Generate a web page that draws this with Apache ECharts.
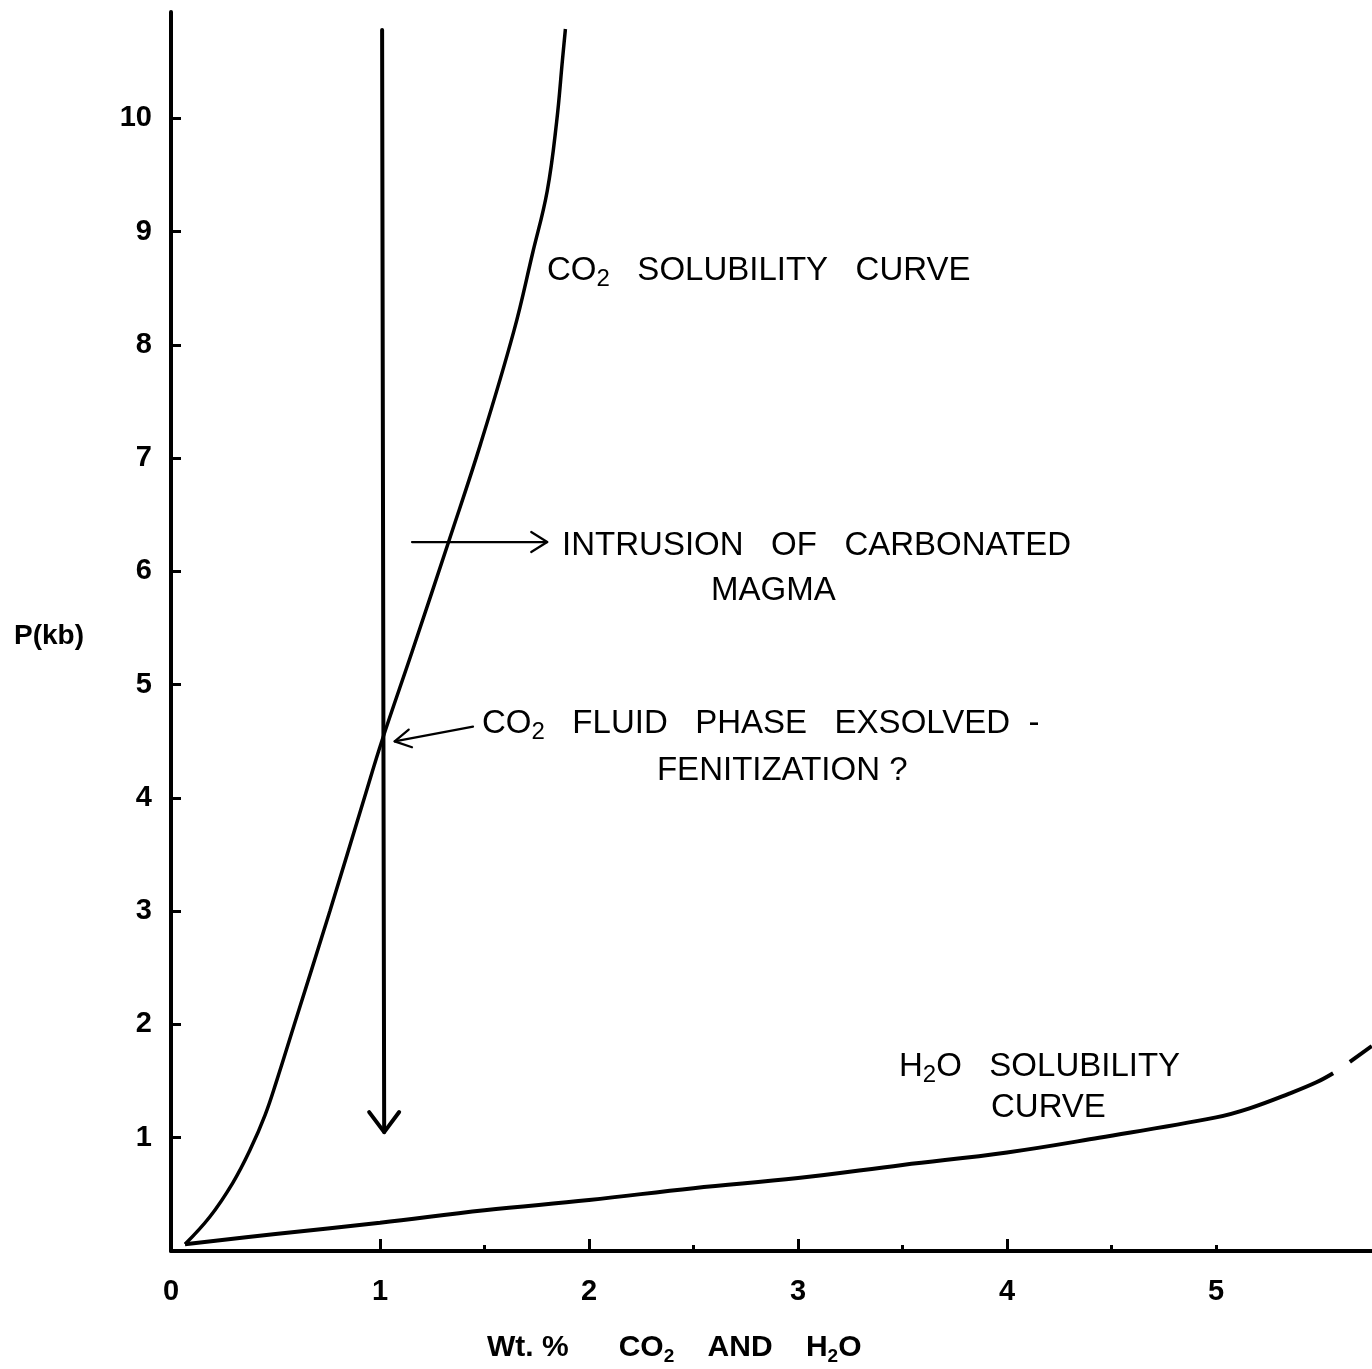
<!DOCTYPE html>
<html><head><meta charset="utf-8">
<script src="https://cdn.jsdelivr.net/npm/echarts@6/dist/echarts.min.js"></script>
<style>html,body{margin:0;padding:0;background:#fff}#c{width:1372px;height:1369px}</style>
</head><body><div id="c"></div>
<script>
// ---- data ----
const xMajorTicks = [1, 2, 3, 4];
const xMinorTicks = [1.5, 2.5, 3.5, 4.5, 5];
const xTickLabels = [0, 1, 2, 3, 4, 5];
const yTickLabels = [1, 2, 3, 4, 5, 6, 7, 8, 9, 10];

const co2Curve = [
  [0.067, 0.06], [0.185, 0.30], [0.295, 0.60], [0.38, 0.90], [0.45, 1.20],
  [0.505, 1.5], [0.59, 2.0], [0.76, 3.0],
  [0.925, 4.0], [1.01, 4.51], [1.155, 5.30], [1.335, 6.30], [1.48, 7.12],
  [1.64, 8.12], [1.73, 8.81], [1.80, 9.36], [1.845, 9.97], [1.873, 10.52], [1.887, 10.79]
];
const h2oCurve = [
  [0.067, 0.06], [0.5, 0.15], [1.0, 0.25], [1.5, 0.36], [2.0, 0.45], [2.5, 0.555],
  [3.0, 0.644], [3.5, 0.76], [4.0, 0.87], [4.44, 1.0], [5.0, 1.18], [5.16, 1.26],
  [5.35, 1.39], [5.48, 1.49], [5.56, 1.57]
];
const h2oCurveTail = [[5.64, 1.67], [5.745, 1.81]];

// arrows: [xStart, yStart, xTip, yTip]
const arrowMagma = [1.01, 10.78, 1.02, 1.05];
const arrowIntrusion = [1.153, 6.26, 1.80, 6.26];
const arrowFluid = [1.445, 4.63, 1.07, 4.50];

const annotationTexts = [
  '{t|CO}{s|2}{t|   SOLUBILITY   CURVE}',
  '{t|INTRUSION   OF   CARBONATED}',
  '{t|MAGMA}',
  '{t|CO}{s|2}{t|   FLUID   PHASE   EXSOLVED  -}',
  '{t|FENITIZATION ?}',
  '{t|H}{s|2}{t|O   SOLUBILITY}',
  '{t|CURVE}'
];
const annotationAnchors = [
  [1.799, 8.65], [1.871, 6.23], [2.584, 5.825], [1.488, 4.65],
  [2.325, 4.24], [3.483, 1.624], [3.923, 1.262]
];

// ---- chart ----
const FONT = '"Liberation Sans", Arial, sans-serif';
const chart = echarts.init(document.getElementById('c'), null, {renderer: 'canvas'});

const arrowList = [arrowMagma, arrowIntrusion, arrowFluid];
const arrowStyle = [
  {w: 4, hl: 20, hw: 15},
  {w: 2.2, hl: 16, hw: 10},
  {w: 2.2, hl: 16, hw: 9}
];

function renderArrow(params, api) {
  const a = arrowList[params.dataIndex];
  const s = arrowStyle[params.dataIndex];
  const p1 = api.coord([a[0], a[1]]);
  const p2 = api.coord([a[2], a[3]]);
  const dx = p2[0] - p1[0], dy = p2[1] - p1[1];
  const L = Math.sqrt(dx * dx + dy * dy);
  const ux = dx / L, uy = dy / L, nx = -uy, ny = ux;
  const w1 = [p2[0] - ux * s.hl + nx * s.hw, p2[1] - uy * s.hl + ny * s.hw];
  const w2 = [p2[0] - ux * s.hl - nx * s.hw, p2[1] - uy * s.hl - ny * s.hw];
  const st = {stroke: '#000', lineWidth: s.w, fill: null, lineCap: 'round', lineJoin: 'round'};
  return {
    type: 'group',
    children: [
      {type: 'line', shape: {x1: p1[0], y1: p1[1], x2: p2[0], y2: p2[1]}, style: st},
      {type: 'polyline', shape: {points: [w1, p2, w2]}, style: st}
    ]
  };
}

function renderText(params, api) {
  const p = api.coord(annotationAnchors[params.dataIndex]);
  return {
    type: 'text',
    x: p[0], y: p[1],
    style: {
      text: annotationTexts[params.dataIndex],
      align: 'left', verticalAlign: 'middle',
      fill: '#000',
      rich: {
        t: {fontSize: 33, fontFamily: FONT, lineHeight: 40, fill: '#000'},
        s: {fontSize: 24, fontFamily: FONT, lineHeight: 28, verticalAlign: 'bottom', fill: '#000'}
      }
    }
  };
}

const option = {
  animation: false,
  backgroundColor: '#fff',
  grid: {left: 171, right: 0, top: 12, bottom: 118, containLabel: false},
  xAxis: [{
    type: 'value', min: 0, max: 5.746,
    axisLine: {show: true, onZero: false, lineStyle: {color: '#000', width: 4}},
    axisTick: {show: true, inside: true, length: 12, customValues: xMajorTicks, lineStyle: {color: '#000', width: 3}},
    axisLabel: {show: true, customValues: xTickLabels, margin: 26, color: '#000', fontSize: 29, fontWeight: 'bold', fontFamily: FONT},
    splitLine: {show: false}
  }, {
    type: 'value', min: 0, max: 5.746, position: 'bottom',
    axisLine: {show: false},
    axisTick: {show: true, inside: true, length: 6, customValues: xMinorTicks, lineStyle: {color: '#000', width: 3}},
    axisLabel: {show: false},
    splitLine: {show: false}
  }],
  yAxis: {
    type: 'value', min: 0, max: 10.94,
    axisLine: {show: true, onZero: false, lineStyle: {color: '#000', width: 4}},
    axisTick: {show: true, inside: true, length: 10, customValues: yTickLabels, lineStyle: {color: '#000', width: 3}},
    axisLabel: {show: true, customValues: yTickLabels, margin: 19, color: '#000', fontSize: 29, fontWeight: 'bold', fontFamily: FONT},
    splitLine: {show: false}
  },
  graphic: [
    {type: 'text', left: 14, top: 622, style: {text: 'P(kb)', fill: '#000', font: 'bold 28px ' + FONT}},
    {type: 'text', left: 487, top: 1333, style: {
      text: '{t|Wt. %      CO}{s|2}{t|    AND    H}{s|2}{t|O}',
      rich: {
        t: {fontSize: 30, fontWeight: 'bold', fontFamily: FONT, lineHeight: 36, fill: '#000'},
        s: {fontSize: 19, fontWeight: 'bold', fontFamily: FONT, lineHeight: 25, verticalAlign: 'bottom', fill: '#000'}
      }
    }}
  ],
  series: [
    {type: 'line', data: co2Curve, showSymbol: false, smooth: 0.4, lineStyle: {color: '#000', width: 3.5}, silent: true},
    {type: 'line', data: h2oCurve, showSymbol: false, smooth: 0.4, lineStyle: {color: '#000', width: 4}, silent: true},
    {type: 'line', data: h2oCurveTail, showSymbol: false, smooth: 0.4, lineStyle: {color: '#000', width: 4}, silent: true},
    {type: 'custom', renderItem: renderArrow, data: arrowList.map(a => [a[0], a[1]]), clip: false, silent: true},
    {type: 'custom', renderItem: renderText, data: annotationAnchors, clip: false, silent: true}
  ]
};
chart.setOption(option);
</script>
</body></html>
